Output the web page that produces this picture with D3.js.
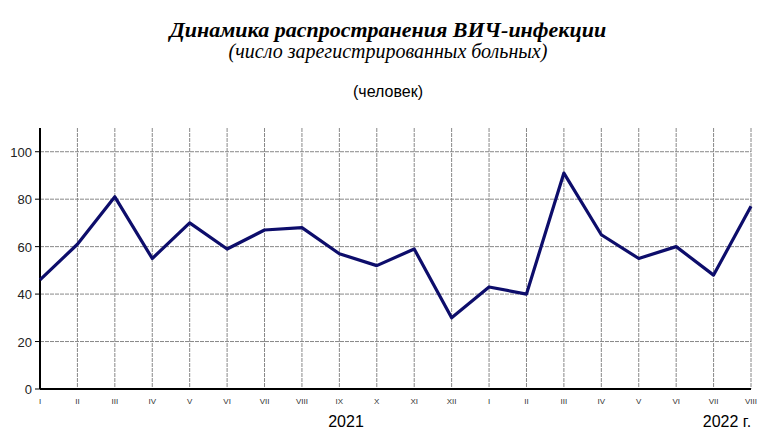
<!DOCTYPE html>
<html><head><meta charset="utf-8">
<script src="https://cdn.jsdelivr.net/npm/d3@7"></script>
<style>body{margin:0;background:#fff}</style></head>
<body><svg id="c" width="776" height="448"></svg>
<script>
const months = ["I","II","III","IV","V","VI","VII","VIII","IX","X","XI","XII","I","II","III","IV","V","VI","VII","VIII"];
const values = [46,61,81,55,70,59,67,68,57,52,59,30,43,40,91,65,55,60,48,77];
const yTicks = [0,20,40,60,80,100];
const svg = d3.select("#c");
const x = d3.scaleLinear().domain([0, months.length-1]).range([40, 751]);
const y = d3.scaleLinear().domain([0, 110]).range([389, 128]);
svg.append("text").attr("x",388).attr("y",37).attr("text-anchor","middle")
  .attr("font-family","Liberation Serif").attr("font-size",22).attr("font-weight","bold").attr("font-style","italic")
  .text("Динамика распространения ВИЧ-инфекции");
svg.append("text").attr("x",388).attr("y",58).attr("text-anchor","middle")
  .attr("font-family","Liberation Serif").attr("font-size",20).attr("font-style","italic")
  .text("(число зарегистрированных больных)");
svg.append("text").attr("x",388).attr("y",97).attr("text-anchor","middle")
  .attr("font-family","Liberation Sans").attr("font-size",16).text("(человек)");
const g = svg.append("g");
g.selectAll(".v").data(months).enter().append("line")
  .attr("x1",(d,i)=>x(i)).attr("x2",(d,i)=>x(i)).attr("y1",128).attr("y2",389)
  .attr("stroke","#888").attr("stroke-dasharray","4,1");
g.selectAll(".h").data(yTicks.slice(1)).enter().append("line")
  .attr("x1",40).attr("x2",751).attr("y1",d=>y(d)).attr("y2",d=>y(d))
  .attr("stroke","#888").attr("stroke-dasharray","4,1");
g.append("line").attr("x1",40).attr("x2",40).attr("y1",128).attr("y2",389).attr("stroke","#000").attr("stroke-width",2);
g.append("line").attr("x1",40).attr("x2",751).attr("y1",389).attr("y2",389).attr("stroke","#000").attr("stroke-width",2);
g.selectAll(".yt").data(yTicks).enter().append("line")
  .attr("x1",35).attr("x2",40).attr("y1",d=>y(d)).attr("y2",d=>y(d)).attr("stroke","#000");
g.selectAll(".yl").data(yTicks).enter().append("text")
  .attr("x",32).attr("y",d=>y(d)+5).attr("text-anchor","end")
  .attr("font-family","Liberation Sans").attr("font-size",13).attr("fill","#222").text(d=>d);
g.selectAll(".xl").data(months).enter().append("text")
  .attr("x",(d,i)=>x(i)).attr("y",404).attr("text-anchor","middle")
  .attr("font-family","Liberation Sans").attr("font-size",8).attr("fill","#333").text(d=>d);
svg.append("text").attr("x",346).attr("y",427).attr("text-anchor","middle")
  .attr("font-family","Liberation Sans").attr("font-size",16).text("2021");
svg.append("text").attr("x",727).attr("y",427).attr("text-anchor","middle")
  .attr("font-family","Liberation Sans").attr("font-size",16).text("2022 г.");
svg.append("path").datum(values)
  .attr("d", d3.line().x((d,i)=>x(i)).y(d=>y(d)))
  .attr("fill","none").attr("stroke","#0d0d6b").attr("stroke-width",3.2).attr("stroke-linejoin","round");
</script></body></html>
